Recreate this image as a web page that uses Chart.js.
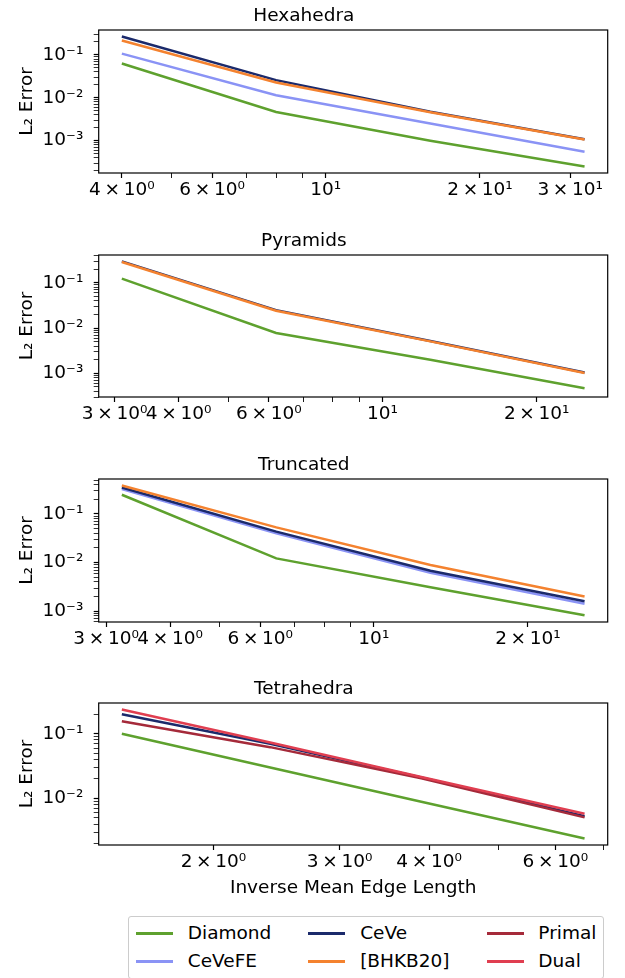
<!DOCTYPE html>
<html>
<head>
<meta charset="utf-8">
<script src="https://cdn.jsdelivr.net/npm/chart.js@4.4.0/dist/chart.umd.min.js"></script>
<style>
  body { margin: 0; background: #fff; }
  #wrap { position: relative; width: 625px; height: 978px; font-family: 'DejaVu Sans'; }
  #wrap canvas { position: absolute; left: 0; }
  #legend { position: absolute; left: 128px; top: 916px; box-sizing: border-box;
    border: 1px solid #cccccc; border-radius: 3px; padding: 7px 7px;
    display: grid; grid-template-columns: 37px auto 37px auto 37px auto;
    row-gap: 9.5px; font-size: 18.5px; line-height: 18.5px; color: #000; background: #fff; }
  #legend .h { height: 2.5px; width: 37px; align-self: center; }
  #legend .t { margin-left: 14.8px; white-space: nowrap; }
  #legend .t.g { margin-right: 37px; }
</style>
</head>
<body>
<div id="wrap">
  <canvas id="c0" width="625" height="225" style="top:0px"></canvas>
  <canvas id="c1" width="625" height="224" style="top:225px"></canvas>
  <canvas id="c2" width="625" height="224" style="top:449px"></canvas>
  <canvas id="c3" width="625" height="230" style="top:673px"></canvas>
  <div id="legend"></div>
</div>
<script>
// ---------------- data ----------------
const hexX       = [4, 8, 16, 32];
const hexDiamond = [0.0627, 0.00465, 0.00100, 0.000250];
const hexCeVeFE  = [0.107, 0.0115, 0.0025, 0.00055];
const hexCeVe    = [0.268, 0.0258, 0.0047, 0.00108];
const hexBHKB20  = [0.216, 0.0228, 0.0046, 0.00106];

const pyrX       = [3.1, 6.2, 12.4, 24.8];
const pyrDiamond = [0.124, 0.0078, 0.0020, 0.00047];
const pyrCeVe    = [0.300, 0.0250, 0.0052, 0.00104];
const pyrBHKB20  = [0.290, 0.0243, 0.0051, 0.00102];

const truX       = [3.22, 6.45, 12.9, 25.8];
const truDiamond = [0.249, 0.0122, 0.0031, 0.00083];
const truCeVeFE  = [0.326, 0.040, 0.0062, 0.00142];
const truCeVe    = [0.352, 0.0433, 0.0068, 0.0016];
const truBHKB20  = [0.386, 0.053, 0.0089, 0.0020];

const tetX       = [1.49, 2.4, 3.9, 6.59];
const tetDiamond = [0.100, 0.030, 0.0089, 0.0024];
const tetCeVe    = [0.200, 0.070, 0.021, 0.0053];
const tetPrimal  = [0.156, 0.062, 0.0205, 0.0051];
const tetDual    = [0.237, 0.073, 0.0215, 0.0058];

// tick values (labelled / unlabelled)
const hexXLabelled = [4, 6, 10, 20, 30];
const hexXMinor    = [5, 7, 8, 9];
const pyrXLabelled = [3, 4, 6, 10, 20];
const pyrXMinor    = [5, 7, 8, 9];
const truXLabelled = [3, 4, 6, 10, 20];
const truXMinor    = [5, 7, 8, 9];
const tetXLabelled = [2, 3, 4, 6];
const tetXMinor    = [5, 7];

const panelTitles = ['Hexahedra', 'Pyramids', 'Truncated', 'Tetrahedra'];
const yTitle = 'L\u2082 Error';
const xTitle = 'Inverse Mean Edge Length';

// legend order (column-major like the reference)
const legendNames = ['Diamond', 'CeVeFE', 'CeVe', '[BHKB20]', 'Primal', 'Dual'];

// ---------------- styles ----------------
const colors = {
  'Diamond': '#5ea12e',
  'CeVeFE': '#8a93f5',
  'CeVe': '#1b2a6b',
  '[BHKB20]': '#f4822f',
  'Primal': '#a52a3a',
  'Dual': '#e03e50'
};
const FONT = 'DejaVu Sans';
const FS = 18.5;
const LW = 2.5;

const panels = [
  { title: panelTitles[0], x: hexX, series: [['Diamond', hexDiamond], ['CeVeFE', hexCeVeFE], ['CeVe', hexCeVe], ['[BHKB20]', hexBHKB20]],
    lab: hexXLabelled, minor: hexXMinor, bottom: 173, xTitle: false },
  { title: panelTitles[1], x: pyrX, series: [['Diamond', pyrDiamond], ['CeVe', pyrCeVe], ['[BHKB20]', pyrBHKB20]],
    lab: pyrXLabelled, minor: pyrXMinor, bottom: 172, xTitle: false },
  { title: panelTitles[2], x: truX, series: [['Diamond', truDiamond], ['CeVeFE', truCeVeFE], ['CeVe', truCeVe], ['[BHKB20]', truBHKB20]],
    lab: truXLabelled, minor: truXMinor, bottom: 173, xTitle: false },
  { title: panelTitles[3], x: tetX, series: [['Diamond', tetDiamond], ['CeVe', tetCeVe], ['Primal', tetPrimal], ['Dual', tetDual]],
    lab: tetXLabelled, minor: tetXMinor, bottom: 172, xTitle: true }
];

const SUP = {'-': '\u207B', '0': '\u2070', '1': '\u00B9', '2': '\u00B2', '3': '\u00B3', '4': '\u2074',
             '5': '\u2075', '6': '\u2076', '7': '\u2077', '8': '\u2078', '9': '\u2079'};
function sup(n) { return String(n).split('').map(c => SUP[c]).join(''); }
function fmt(v) {
  const e = Math.floor(Math.log10(v) + 1e-9);
  const m = Math.round(v / Math.pow(10, e));
  return m === 1 ? '10' + sup(e) : m + '\u2009\u00D7\u200910' + sup(e);
}
function logLimits(vals) {
  const lo = Math.log10(Math.min(...vals)), hi = Math.log10(Math.max(...vals));
  const m = 0.05 * (hi - lo);
  return [Math.pow(10, lo - m), Math.pow(10, hi + m)];
}

const frame = {
  id: 'frame',
  afterDraw(chart) {
    const { ctx, chartArea: a } = chart;
    ctx.save();
    ctx.strokeStyle = '#000';
    ctx.lineWidth = 1.2;
    ctx.strokeRect(a.left, a.top, a.right - a.left, a.bottom - a.top);
    ctx.restore();
  }
};

Chart.defaults.color = '#000';
Chart.defaults.font.family = FONT;
Chart.defaults.font.size = FS;

panels.forEach((p, idx) => {
  const canvas = document.getElementById('c' + idx);
  const H = canvas.height;
  const allY = [].concat(...p.series.map(s => s[1]));
  const [xmin, xmax] = logLimits(p.x);
  const [ymin, ymax] = logLimits(allY);
  const labSet = new Set(p.lab);
  const n = p.series.length;
  const datasets = p.series.map((s, i) => ({
    label: s[0],
    data: p.x.map((xv, j) => ({ x: xv, y: s[1][j] })),
    borderColor: colors[s[0]],
    backgroundColor: colors[s[0]],
    borderWidth: LW,
    pointRadius: 0,
    tension: 0,
    fill: false,
    order: n - i
  }));
  new Chart(canvas, {
    type: 'line',
    data: { datasets },
    plugins: [frame],
    options: {
      responsive: false,
      animation: false,
      devicePixelRatio: 1,
      layout: { padding: { left: 0, right: 17.3, top: 0, bottom: 0 } },
      plugins: {
        legend: { display: false },
        tooltip: { enabled: false },
        title: { display: true, text: p.title, color: '#000',
                 font: { family: FONT, size: FS, weight: 'normal' },
                 padding: { top: 5, bottom: 2.8 } }
      },
      scales: {
        x: {
          type: 'logarithmic', position: 'bottom', min: xmin, max: xmax,
          afterBuildTicks(scale) {
            scale.ticks = p.lab.concat(p.minor).sort((a, b) => a - b).map(v => ({ value: v }));
          },
          afterFit(scale) { scale.height = H - p.bottom; },
          ticks: { autoSkip: false, maxRotation: 0, minRotation: 0, padding: 1.5, color: '#000',
                   font: { family: FONT, size: FS },
                   callback: (v) => labSet.has(v) ? fmt(v) : '' },
          grid: { display: true, drawOnChartArea: false, drawTicks: true, tickLength: 5,
                  tickColor: '#000', tickWidth: (c) => (c.tick && labSet.has(c.tick.value)) ? 1.2 : 0.9 },
          border: { display: false },
          title: { display: p.xTitle, text: xTitle, color: '#000', font: { family: FONT, size: FS },
                   padding: { top: 0, bottom: 4 } }
        },
        y: {
          type: 'logarithmic', position: 'left', min: ymin, max: ymax,
          afterBuildTicks(scale) {
            const t = [];
            for (let e = Math.floor(Math.log10(scale.min)); e <= Math.ceil(Math.log10(scale.max)); e++) {
              for (let k = 1; k <= 9; k++) {
                const v = k * Math.pow(10, e);
                if (v >= scale.min && v <= scale.max) t.push({ value: v, lab: k === 1 });
              }
            }
            scale.ticks = t;
          },
          afterFit(scale) { scale.width = 98.7; },
          ticks: { autoSkip: false, padding: 10.4, color: '#000', font: { family: FONT, size: FS },
                   callback: (v) => {
                     const e = Math.round(Math.log10(v));
                     return Math.abs(v / Math.pow(10, e) - 1) < 1e-6 ? fmt(v) : '';
                   } },
          grid: { display: true, drawOnChartArea: false, drawTicks: true, tickLength: 5,
                  tickColor: '#000', tickWidth: (c) => (c.tick && c.tick.lab) ? 1.2 : 0.8 },
          border: { display: false },
          title: { display: true, text: yTitle, color: '#000', font: { family: FONT, size: FS },
                   padding: { top: 16, bottom: 0 } }
        }
      }
    }
  });
});

// HTML legend built from the legend names / colours
(function () {
  const leg = document.getElementById('legend');
  const rows = 2, cols = 3;
  for (let r = 0; r < rows; r++) {
    for (let c = 0; c < cols; c++) {
      const name = legendNames[c * rows + r];
      const h = document.createElement('div');
      h.className = 'h';
      h.style.background = colors[name];
      const t = document.createElement('div');
      t.className = 't' + (c < cols - 1 ? ' g' : '');
      t.textContent = name;
      leg.appendChild(h);
      leg.appendChild(t);
    }
  }
})();
</script>
</body>
</html>
